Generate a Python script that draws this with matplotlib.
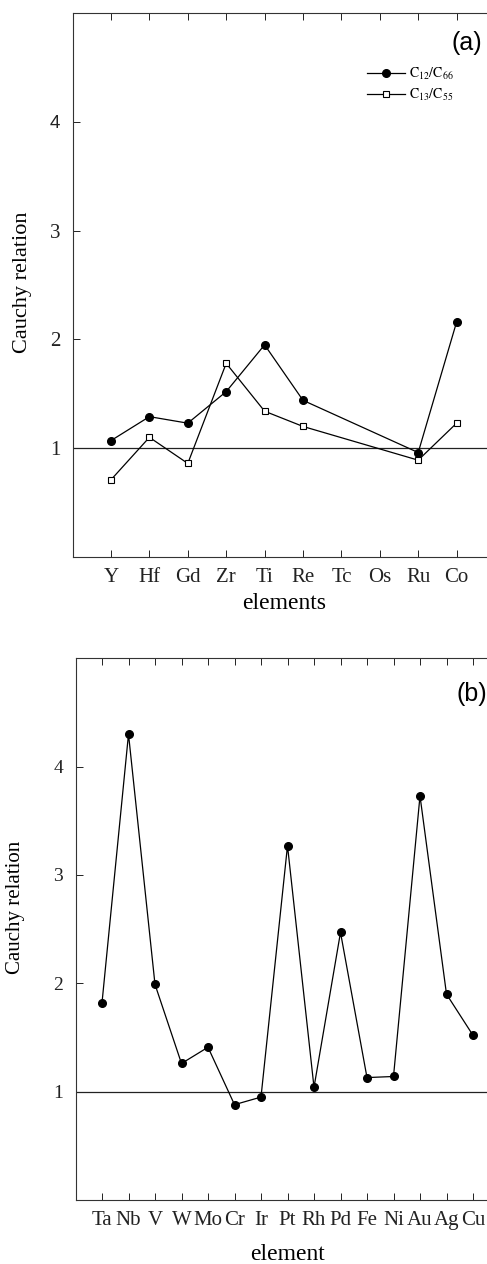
import matplotlib
matplotlib.use('Agg')
import matplotlib.pyplot as plt

plt.rcParams['font.family'] = 'Liberation Serif'
plt.rcParams['mathtext.fontset'] = 'stix'

# panel (a) data
elements_a = ['Y', 'Hf', 'Gd', 'Zr', 'Ti', 'Re', 'Tc', 'Os', 'Ru', 'Co']
idx_c12 = [0, 1, 2, 3, 4, 5, 8, 9]
c12_c66 = [1.07, 1.29, 1.23, 1.52, 1.95, 1.44, 0.96, 2.16]
idx_c13 = [0, 1, 2, 3, 4, 5, 8, 9]
c13_c55 = [0.71, 1.10, 0.86, 1.78, 1.34, 1.20, 0.89, 1.23]

# panel (b) data
elements_b = ['Ta', 'Nb', 'V', 'W', 'Mo', 'Cr', 'Ir', 'Pt', 'Rh', 'Pd',
              'Fe', 'Ni', 'Au', 'Ag', 'Cu']
cauchy_b = [1.82, 4.30, 1.99, 1.26, 1.41, 0.88, 0.95, 3.27, 1.04, 2.47,
            1.13, 1.14, 3.73, 1.90, 1.52]

yticks = [1, 2, 3, 4]

fig = plt.figure(figsize=(4.87, 12.64), dpi=100)
ax1 = fig.add_axes([72.6 / 487, 1 - 557 / 1264, 422.4 / 487, 544 / 1264])
ax2 = fig.add_axes([75.5 / 487, 1 - 1200 / 1264, 424 / 487, 541.7 / 1264])


def style_axes(ax, names, lab_size):
    ax.set_ylim(0, 5)
    ax.set_xlim(-1, len(names))
    ax.set_xticks(range(len(names)))
    ax.set_xticklabels(names)
    ax.set_yticks(yticks)
    ax.set_yticklabels([str(t) for t in yticks])
    ax.tick_params(direction='in', length=5, width=0.7, top=True, right=False,
                   labelsize=lab_size, colors='#222222')
    ax.tick_params(axis='x', pad=8)
    ax.tick_params(axis='y', pad=9)
    for s in ax.spines.values():
        s.set_linewidth(0.8)
        s.set_color('#333333')
    ax.axhline(1, color='#222222', lw=0.9, zorder=1)


# (a)
style_axes(ax1, elements_a, 15)
ax1.get_yticklabels()[3].set_family('Liberation Sans')
ax1.get_yticklabels()[3].set_fontsize(13.5)
ax1.plot(idx_c12, c12_c66, '-o', color='black', ms=5.5, lw=0.9,
         label=r'$\mathrm{C_{12}/C_{66}}$')
ax1.plot(idx_c13, c13_c55, '-s', color='black', mfc='white', ms=5, mew=0.8,
         lw=0.9, label=r'$\mathrm{C_{13}/C_{55}}$')
ax1.set_xlabel('elements', fontsize=17, labelpad=4)
ax1.set_ylabel('Cauchy relation', fontsize=16)
ax1.yaxis.set_label_coords(-0.097, 0.505)
ax1.text(0.969, 0.944, '(a)', transform=ax1.transAxes, family='Liberation Sans',
         fontsize=18, ha='right', va='center')
ax1.legend(loc='upper left', bbox_to_anchor=(0.681, 0.915), frameon=False,
           fontsize=10, handlelength=2.7, handletextpad=0.3,
           labelspacing=0.3, borderpad=0)

# (b)
style_axes(ax2, elements_b, 14)
ax2.tick_params(axis='x', labelsize=15)
ax2.plot(range(len(elements_b)), cauchy_b, '-o', color='black', ms=5.5, lw=0.9)
ax2.set_xlabel('element', fontsize=17, labelpad=10)
ax2.set_ylabel('Cauchy relation', fontsize=15)
ax2.yaxis.set_label_coords(-0.12, 0.54)
ax2.text(0.9705, 0.935, '(b)', transform=ax2.transAxes, family='Liberation Sans',
         fontsize=18, ha='right', va='center')

fig.savefig('out.png', dpi=100)
